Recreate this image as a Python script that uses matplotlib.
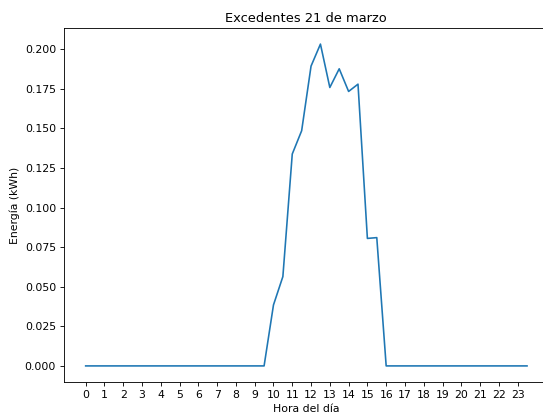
import matplotlib
matplotlib.use("Agg")
import matplotlib.pyplot as plt

hours = [i * 0.5 for i in range(48)]
energia = [0.0] * 20 + [0.0385, 0.0564, 0.1338, 0.1485, 0.1893, 0.2032, 0.1758, 0.1876,
                        0.1733, 0.1779, 0.0805, 0.0810] + [0.0] * 16
tick_labels = [str(h) for h in range(24)]

W, H, DPI = 543, 414, 78
fig = plt.figure(figsize=(W / DPI, H / DPI), dpi=DPI)
# the reference is cropped on the right: the axes extend past the image edge
ax = fig.add_axes([63.6 / W, 1 - 382 / H, (549.1 - 63.6) / W, (382 - 28) / H])
ax.plot(hours, energia)
ax.set_xticks(range(24))
ax.set_xticklabels(tick_labels)
ax.set_title("Excedentes 21 de marzo")
ax.set_xlabel("Hora del día")
ax.set_ylabel("Energía (kWh)")
fig.savefig("out.png", dpi=DPI)
